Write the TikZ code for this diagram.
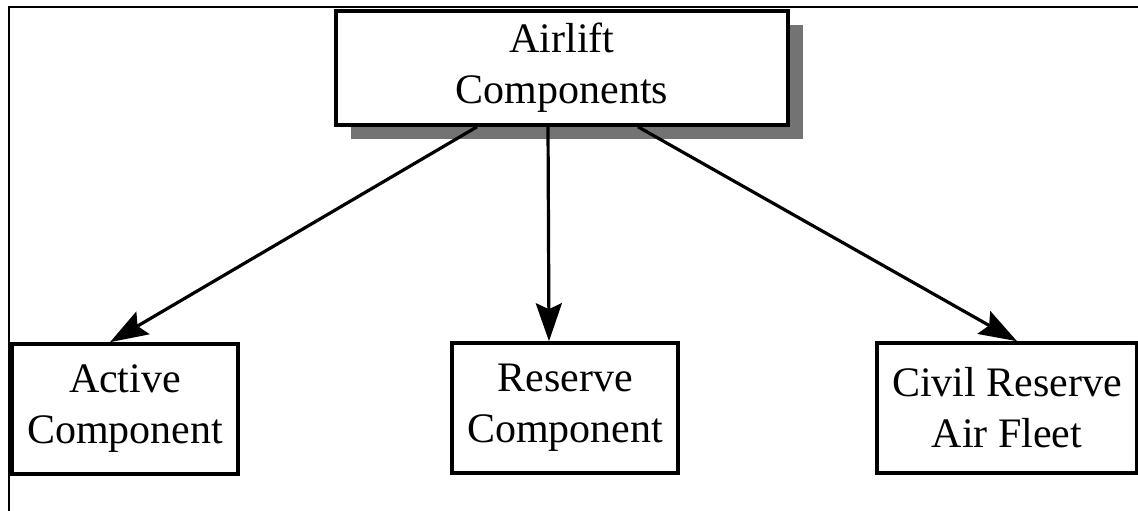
\documentclass[tikz,border=0pt]{standalone}
\usepackage{fontspec}
\setmainfont{Liberation Serif}
\usetikzlibrary{arrows.meta,calc,shadows}
\newcommand{\pxunit}{0.5pt}
\tikzset{
    txtsty/.style={font=\fontsize{21}{25.5}\selectfont, align=center, inner sep=0pt},
    boxsty/.style={txtsty, draw, line width=1.8pt, fill=white, rectangle, minimum width=226*\pxunit, minimum height=130*\pxunit, anchor=center},
    topsty/.style={boxsty, minimum width=452*\pxunit, minimum height=114*\pxunit, drop shadow={shadow xshift=15*\pxunit, shadow yshift=-14*\pxunit, fill=black!55, opacity=1}},
    arrsty/.style={-{Stealth[length=19pt,width=13pt,inset=3pt]}, line width=1.6pt},
    framesty/.style={line width=1.1pt},
}

\begin{document}
\begin{tikzpicture}[x=\pxunit, y=-\pxunit]
\useasboundingbox (0,0) rectangle (1138,510);
\draw[framesty] (9,512) -- (9,7) -- (1140,7);
\node[topsty] (air) at (562,68) {Airlift\\Components};
\node[boxsty] (act) at (125,409) {Active\\Component};
\node[boxsty] (res) at (565,408) {Reserve\\Component};
\node[boxsty, minimum width=260*\pxunit] (crf) at (1007,408) {Civil Reserve\\Air Fleet};
\draw[arrsty] ($(air.south)+(-85,0)$) -- ($(act.north)+(-15,0)$);
\draw[arrsty] ($(air.south)+(-14,0)$) -- ($(res.north)+(-16,0)$);
\draw[arrsty] ($(air.south)+(76,0)$) -- ($(crf.north)+(10,0)$);
\end{tikzpicture}
\end{document}
